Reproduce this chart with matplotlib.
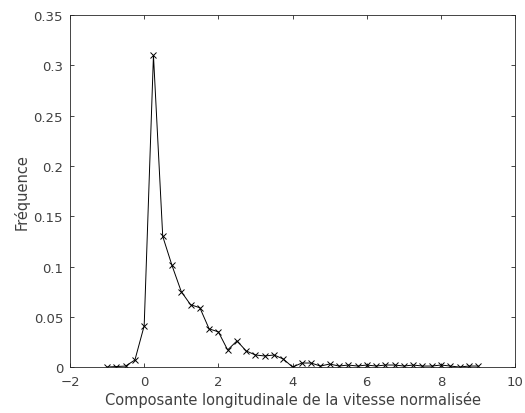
import matplotlib
matplotlib.use("Agg")
import matplotlib.pyplot as plt
import numpy as np

# bin centres (step 0.25) and frequencies
vitesse = np.arange(-1.0, 9.01, 0.25)
frequence = [
    0.0, 0.0005, 0.001, 0.007, 0.041, 0.310, 0.130, 0.101, 0.075, 0.062,
    0.059, 0.038, 0.035, 0.017, 0.026, 0.016, 0.012, 0.011, 0.012, 0.008,
    0.0, 0.004, 0.004, 0.001, 0.003, 0.001, 0.002, 0.001, 0.002, 0.001,
    0.002, 0.002, 0.001, 0.002, 0.001, 0.001, 0.002, 0.001, 0.0, 0.001,
    0.001,
]

axis_col = (0.15, 0.15, 0.15)
text_col = (0.25, 0.25, 0.25)

fig = plt.figure(figsize=(5.25, 4.14), dpi=100)
ax = fig.add_axes([0.1333, 0.111, 0.848, 0.850])

ax.plot(vitesse, frequence, color="k", linewidth=0.7, marker="x",
        markersize=5, markeredgewidth=0.7)

ax.set_xlim(-2, 10)
ax.set_ylim(0, 0.35)
ax.set_xticks(np.arange(-2, 11, 2))
ax.set_yticks(np.arange(0, 0.351, 0.05))
ax.set_yticklabels(["0", "0.05", "0.1", "0.15", "0.2", "0.25", "0.3", "0.35"])

ax.tick_params(direction="in", length=3, width=0.6, labelsize=9.5,
               colors=axis_col, labelcolor=text_col, top=True, right=True)
ax.tick_params(axis="x", pad=6)
ax.tick_params(axis="y", pad=5)
for sp in ax.spines.values():
    sp.set_color(axis_col)
    sp.set_linewidth(0.6)

ax.set_xlabel("Composante longitudinale de la vitesse normalisée",
              fontsize=10.5, color=text_col, labelpad=2)
ax.set_ylabel("Fréquence", fontsize=10.5, color=text_col, labelpad=3)

fig.savefig("out.png", dpi=100)
